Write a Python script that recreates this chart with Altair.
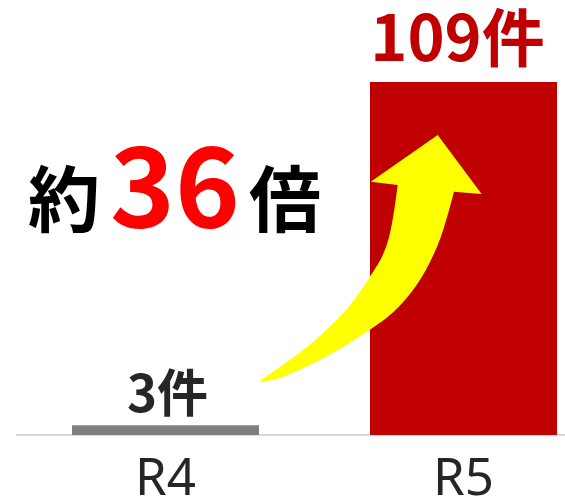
import altair as alt
import pandas as pd

# ---- data ----
categories = ["R4", "R5"]
values = [3, 109]
value_labels = ["3件", "109件"]
ratio_prefix = "約"
ratio_number = "36"
ratio_suffix = "倍"

df = pd.DataFrame({"year": categories, "count": values, "label": value_labels})

W, H = 549, 435
FONT = "Noto Sans CJK JP"

x_enc = alt.X("year:N", sort=categories,
              scale=alt.Scale(range=[56, 541], paddingInner=0.3725, paddingOuter=0),
              axis=alt.Axis(title=None, domain=False, ticks=False, grid=False,
                            labelAngle=0, labelFontSize=51, labelColor="#262626",
                            labelPadding=19, labelFont="Noto Sans"))
y_enc = alt.Y("count:Q", scale=alt.Scale(domain=[0, 134.3], nice=False), axis=None)

base = alt.Chart(df)

axis_line = base.mark_rule(color="#D9D9D9", strokeWidth=2).encode(
    x=alt.value(0), x2=alt.value(W), y=alt.value(H))

bars = base.mark_bar().encode(
    x=x_enc, y=y_enc,
    color=alt.Color("year:N", scale=alt.Scale(domain=categories, range=["#7F7F7F", "#C00000"]), legend=None),
)

lbl_r4 = base.transform_filter(alt.datum.year == "R4").mark_text(
    font=FONT, fontWeight="bold", fontSize=51, color="#262626", baseline="alphabetic", dy=-13, dx=2
).encode(x=x_enc, y=y_enc, text="label:N")

lbl_r5 = base.transform_filter(alt.datum.year == "R5").mark_text(
    font=FONT, fontWeight="bold", fontSize=63, color="#C00000", baseline="alphabetic", dy=-21, dx=-6
).encode(x=x_enc, y=y_enc, text="label:N")

t1 = alt.Chart(pd.DataFrame({"t": [ratio_prefix]})).mark_text(
    font=FONT, fontWeight="bold", fontSize=72, color="#000000", baseline="alphabetic", align="center"
).encode(x=alt.value(48), y=alt.value(226), text="t:N")
t2 = alt.Chart(pd.DataFrame({"t": [ratio_number]})).mark_text(
    font=FONT, fontWeight="bold", fontSize=110, color="#FF0000", baseline="alphabetic", align="center"
).encode(x=alt.value(159), y=alt.value(227), text="t:N")
t3 = alt.Chart(pd.DataFrame({"t": [ratio_suffix]})).mark_text(
    font=FONT, fontWeight="bold", fontSize=72, color="#000000", baseline="alphabetic", align="center"
).encode(x=alt.value(269), y=alt.value(226), text="t:N")


# ---- decorative arrow glyph (shape style, unit box [-1,1]) ----
def smooth(pts):
    """Quadratic smoothing through midpoints."""
    s = ""
    for i in range(1, len(pts) - 1):
        cx, cy = pts[i]
        nx, ny = pts[i + 1]
        mx, my = (cx + nx) / 2, (cy + ny) / 2
        if i == len(pts) - 2:
            mx, my = nx, ny
        s += f" Q{cx:.3f},{cy:.3f} {mx:.3f},{my:.3f}"
    return s

lower = [(0.680, -0.541), (0.621, -0.312), (0.526, -0.042), (0.378, 0.228),
         (0.189, 0.444), (0.0, 0.579), (-0.297, 0.768), (-0.567, 0.903),
         (-0.810, 0.998), (-0.904, 0.998)]
upper = [(-0.904, 0.998), (-0.702, 0.862), (-0.432, 0.660), (-0.162, 0.390),
         (0.0, 0.147), (0.121, -0.042), (0.189, -0.312), (0.224, -0.595)]
arrow_path = ("M0.548,-1 L0.904,-0.522 L0.680,-0.541" + smooth(lower) +
              smooth(upper) + " L0.006,-0.622 Z")

arrow = alt.Chart(pd.DataFrame({"a": [1]})).mark_point(
    shape=arrow_path, filled=True, fill="#FFFF00", strokeWidth=0, opacity=1, size=61009
).encode(x=alt.value(354), y=alt.value(258.5))

chart = alt.layer(axis_line, bars, lbl_r4, lbl_r5, t1, t2, t3, arrow).properties(
    width=W, height=H,
    autosize=alt.AutoSizeParams(type="none"),
    padding={"left": 16, "top": 0, "right": 0, "bottom": 67},
).configure_view(stroke=None)

chart.save("out.html", embed_options={"renderer": "svg", "actions": False})
